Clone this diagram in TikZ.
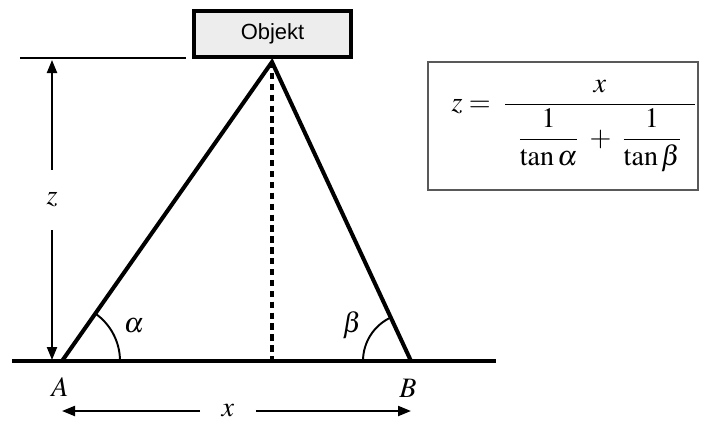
\documentclass[tikz,border=0pt]{standalone}
\usepackage{amsmath}
\usepackage{mathptmx}
\usepackage[no-math]{fontspec}
\newfontfamily\objfont{Liberation Sans}
\usepackage{tikz}
\usetikzlibrary{arrows.meta, angles, positioning, calc}
\definecolor{objgray}{rgb}{0.93, 0.93, 0.93}
\definecolor{framegray}{rgb}{0.35, 0.35, 0.35}
\tikzset{
  heavy/.style={line width=2.3pt},
  dimarrow/.style={line width=1.2pt, -{Triangle[length=2.6mm,width=2mm]}},
  lbl/.style={font=\fontsize{16}{18}\selectfont},
}

\begin{document}
\begin{tikzpicture}[>=stealth]
    \useasboundingbox (0,0) rectangle (14.12,8.42);

    % =====================
    % Object and top line
    % =====================
    \node[draw, heavy, fill=objgray, minimum width=3.14cm, minimum height=0.92cm,
          font=\objfont\fontsize{12.5}{14}\selectfont] (obj) at (5.45,7.74) {Objekt};
    \coordinate (topL) at (0.40,7.26);
    \coordinate (topR) at (3.72,7.26);
    \draw[line width=1.6pt] (topL) -- (topR);

    % =====================
    % Triangle
    % =====================
    \coordinate (C) at (5.44,7.18);
    \coordinate (A) at (1.24,1.20);
    \coordinate (B) at (8.22,1.20);
    \coordinate (D) at (5.44,1.20);
    \coordinate (gL) at (0.24,1.20);
    \coordinate (gR) at (9.92,1.20);

    \draw[heavy] (gL) -- (gR);
    \draw[heavy, line join=miter] (A) -- (C) -- (B);
    \draw[line width=2pt, dash pattern=on 3.6pt off 2.6pt] (C) -- (D);

    \pic[draw, line width=1.1pt, angle radius=1.16cm] {angle=B--A--C};
    \pic[draw, line width=1.1pt, angle radius=0.96cm] {angle=C--B--A};

    \node[lbl] (alpha) at (2.68,1.90) {$\alpha$};
    \node[lbl] (beta) at (7.04,1.92) {$\beta$};
    \node[lbl] (labA) at (1.20,0.68) {$A$};
    \node[lbl] (labB) at (8.16,0.66) {$B$};

    % =====================
    % Height z
    % =====================
    \coordinate (zT) at (1.04,7.22);
    \coordinate (zB) at (1.04,1.22);
    \node[lbl, minimum height=1.2cm] (zlab) at (1.04,4.42) {$z$};
    \draw[dimarrow] (zlab) -- (zT);
    \draw[dimarrow] (zlab) -- (zB);

    % =====================
    % Base x
    % =====================
    \coordinate (xL) at (1.24,0.20);
    \coordinate (xR) at (8.22,0.20);
    \node[lbl, minimum width=1.1cm] (xlab) at (4.56,0.20) {$x$};
    \draw[dimarrow] (xlab) -- (xL);
    \draw[dimarrow] (xlab) -- (xR);

    % =====================
    % Formula
    % =====================
    \node[draw=framegray, line width=0.9pt, minimum width=5.40cm, minimum height=2.56cm] (fbox) at (11.26,5.90) {};
    \node[anchor=west, inner sep=0pt, font=\fontsize{16}{18}\selectfont] (formula) at ($(fbox.west)+(0.48,0)$)
      {$z = \;\dfrac{x}{\;\;\dfrac{1}{\tan\alpha} \;+\; \dfrac{1}{\tan\beta}\;\;}$};

\end{tikzpicture}
\end{document}
